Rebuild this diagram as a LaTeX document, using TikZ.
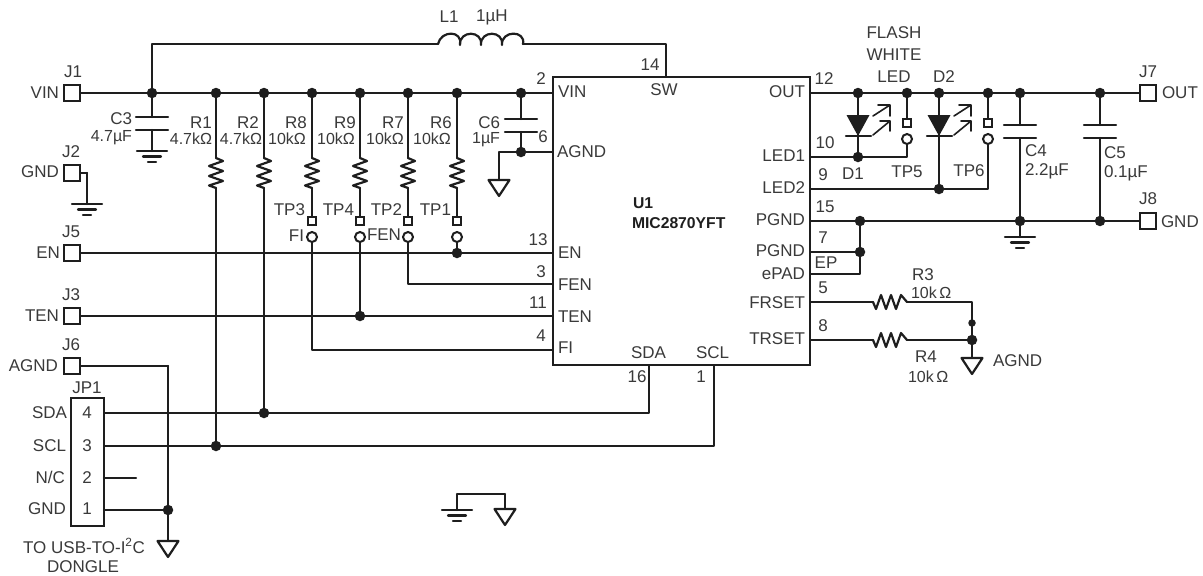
\documentclass[tikz,border=0pt]{standalone}
\usepackage{fontspec}
\setmainfont{Liberation Sans}
\definecolor{wirecol}{HTML}{1E1E1E}
\definecolor{labcol}{HTML}{3A3A3A}
\tikzset{
  wire/.style={draw=wirecol,line width=2.2pt,line cap=round,line join=round},
  thinwire/.style={draw=wirecol,line width=1.6pt,line cap=round,line join=round},
  lab/.style={font=\fontsize{17}{19}\selectfont,text=labcol,inner sep=0pt,outer sep=0pt},
  labv/.style={font=\fontsize{16}{18}\selectfont,text=labcol,inner sep=0pt,outer sep=0pt},
  labb/.style={font=\fontsize{15.7}{18}\selectfont\bfseries,text=wirecol,inner sep=0pt,outer sep=0pt},
  jdot/.style={circle,fill=wirecol,draw=none,minimum size=10.5pt,inner sep=0pt},
  sdot/.style={circle,fill=wirecol,draw=none,minimum size=7.5pt,inner sep=0pt},
  jpad/.style={rectangle,draw=wirecol,line width=2.4pt,fill=white,minimum width=16.5pt,minimum height=15.5pt,inner sep=0pt},
  tsq/.style={rectangle,draw=wirecol,line width=1.7pt,fill=white,minimum size=8pt,inner sep=0pt},
  tcirc/.style={circle,draw=wirecol,line width=2pt,fill=white,minimum size=10pt,inner sep=0pt},
  vres/.pic={\draw[wire] (0,-15)--(7,-12)--(-7,-7)--(7,-2)--(-7,3)--(7,8)--(-7,12.5)--(0,15);},
  hres/.pic={\draw[wire] (-17,0)--(-14,7)--(-9,-7)--(-4,7)--(1,-7)--(6,7)--(11,-7)--(17,0);},
  earth/.pic={\draw[wire] (-15,0)--(15,0) (-9,5.5)--(9,5.5) (-4,11)--(4,11);},
  agnd/.pic={\draw[wire,fill=white] (-10.5,0)--(10.5,0)--(0,16)--cycle;},
  capv/.pic={\draw[wire] (-16,0)--(16,0) (-16,13)--(16,13);},
  coil/.pic={\draw[wire]
     (0,0) .. controls (3,-14) and (25,-14) .. (22,1)
     (22,1) .. controls (21,-14) and (45,-14) .. (43,1)
     (43,1) .. controls (42,-14) and (66,-14) .. (64,1)
     (64,1) .. controls (63,-14) and (88,-14) .. (85,0);},
  led/.pic={
    \fill[wirecol] (-11.5,0)--(11.5,0)--(0,21)--cycle;
    \draw[wire] (-12,21)--(13,21);
    \draw[thinwire] (15,1)--(32,-10) (20,-10)--(32,-10)--(32,1);
    \draw[thinwire] (15,20)--(32,6) (22,6)--(32,6)--(32,16);
  }
}
\begin{document}
\begin{tikzpicture}[x=1pt,y=-1pt]
\useasboundingbox (0,0) rectangle (1203,576);
\fill[white] (0,0) rectangle (1203,576);

% ---------- named points
\coordinate (jC3) at (152,93); \coordinate (jR1) at (216,93); \coordinate (jR2) at (264,93);
\coordinate (jR8) at (312,93); \coordinate (jR9) at (360,93); \coordinate (jR7) at (408,93);
\coordinate (jR6) at (457,93); \coordinate (jC6) at (521,93);
\coordinate (icVin) at (553,93); \coordinate (icAgnd) at (553,152); \coordinate (jC6b) at (521,152);
\coordinate (icEn) at (553,253); \coordinate (icFen) at (553,284); \coordinate (icTen) at (553,316); \coordinate (icFi) at (553,350);
\coordinate (icSw) at (666,77); \coordinate (swTop) at (666,44);
\coordinate (icSda) at (649,365); \coordinate (icScl) at (714,365);
\coordinate (lA) at (438,44); \coordinate (lB) at (523,44); \coordinate (topL) at (152,44);
\coordinate (icOut) at (810,93); \coordinate (icLed1) at (810,157); \coordinate (icLed2) at (810,189);
\coordinate (icPgnd) at (810,221); \coordinate (icPgnd2) at (810,252); \coordinate (icEp) at (810,274);
\coordinate (icFr) at (810,302); \coordinate (icTr) at (810,340);
\coordinate (jD1) at (858,93); \coordinate (jT5) at (907,93); \coordinate (jD2) at (939,93);
\coordinate (jT6) at (988,93); \coordinate (jC4) at (1020,93); \coordinate (jC5) at (1100,93);
\coordinate (jD1b) at (858,157); \coordinate (jD2b) at (939,189);
\coordinate (jP1) at (860,221); \coordinate (jP2) at (860,252); \coordinate (jP3) at (860,274);
\coordinate (jC4b) at (1020,221); \coordinate (jC5b) at (1100,221);
\coordinate (gC4) at (1020,237);
\coordinate (r3L) at (873,302); \coordinate (r3R) at (907,302); \coordinate (r4L) at (873,340); \coordinate (r4R) at (907,340);
\coordinate (cFr) at (972,302); \coordinate (jSm) at (972,323); \coordinate (jTr) at (972,340); \coordinate (gTr) at (972,358);
\coordinate (jEn) at (457,253); \coordinate (jTen) at (360,316); \coordinate (fiC) at (312,350); \coordinate (fenC) at (408,284);
\coordinate (jSda) at (264,413); \coordinate (jScl) at (216,446);
\coordinate (nc) at (136,478); \coordinate (jJp) at (168,510); \coordinate (j6c) at (168,366); \coordinate (g6) at (168,541);
\coordinate (g3) at (152,151); \coordinate (j2c) at (87,173); \coordinate (g2) at (87,204);
\coordinate (gC6c) at (499,152); \coordinate (gC6) at (499,180);
\coordinate (gb1) at (457,510); \coordinate (gb2) at (505,509); \coordinate (gbc1) at (457,494); \coordinate (gbc2) at (505,494);

% ---------- connectors
\draw[wire] (jC3)--(topL)--(lA);
\draw[wire] (lB)--(swTop)--(icSw);
\pic at (lA) {coil};
\draw[wire] (jC3)--(icVin);
\draw[wire] (jC3)--(152,117) (152,130)--(g3);
\draw[wire] (jR1)--(216,158) (216,188)--(jScl);
\draw[wire] (jR2)--(264,158) (264,188)--(jSda);
\draw[wire] (jR8)--(312,158) (312,188)--(312,221) (312,237)--(fiC)--(icFi);
\draw[wire] (jR9)--(360,158) (360,188)--(360,221) (360,237)--(jTen);
\draw[wire] (jR7)--(408,158) (408,188)--(408,221) (408,237)--(fenC)--(icFen);
\draw[wire] (jR6)--(457,158) (457,188)--(457,221) (457,237)--(jEn);
\draw[wire] (jC6)--(521,119) (521,132)--(jC6b);
\draw[wire] (icAgnd)--(gC6c)--(gC6);
\draw[wire] (icOut)--(jD2)--(jC5);
\draw[wire] (jD1)--(jD1b) (icLed1)--(907,157)--(907,139) (jT5)--(907,123);
\draw[wire] (jD2)--(jD2b) (icLed2)--(988,189)--(988,139) (jT6)--(988,123);
\draw[wire] (jC4)--(1020,125) (1020,138)--(jC4b);
\draw[wire] (jC5)--(1100,125) (1100,138)--(jC5b);
\draw[wire] (icPgnd)--(jC5b);
\draw[wire] (jC4b)--(gC4);
\draw[wire] (jP1)--(jP3)--(icEp);
\draw[wire] (icPgnd2)--(jP2);
\draw[wire] (icFr)--(r3L) (r3R)--(cFr)--(gTr);
\draw[wire] (icTr)--(r4L) (r4R)--(jTr);
\draw[wire] (j2c)--(g2);
\draw[wire] (gbc1)--(gbc2) (gbc1)--(gb1) (gbc2)--(gb2);
\draw[wire] (j6c)--(g6);
\draw[wire] (104,478)--(nc);
\draw[wire] (104,510)--(jJp);

\node[jpad] (J1) at (72,93) {};
\node[jpad] (J2) at (72,173) {};
\node[jpad] (J5) at (72,253) {};
\node[jpad] (J3) at (72,316) {};
\node[jpad] (J6) at (72,366) {};
\node[jpad] (J7) at (1148,93) {};
\node[jpad] (J8) at (1148,221) {};
\node[draw=wirecol,line width=2.4pt,minimum width=33pt,minimum height=128pt,inner sep=0pt] (JP1) at (87.5,462) {};
\draw[wire] (J1.east)--(jC3);
\draw[wire] (J2.east)--(j2c);
\draw[wire] (J5.east)--(icEn);
\draw[wire] (J3.east)--(icTen);
\draw[wire] (J6.east)--(j6c);
\draw[wire] (jC5)--(J7.west);
\draw[wire] (jC5b)--(J8.west);
\draw[wire] (JP1.east|-jSda)--(jSda)--(649,413)--(icSda);
\draw[wire] (JP1.east|-jScl)--(jScl)--(714,446)--(icScl);

% IC
\node[draw=wirecol,fill=white,line width=2.4pt,minimum width=257pt,minimum height=288pt,inner sep=0pt] (U1) at (681.5,221) {};

% ---------- parts
\pic at (152,117) {capv};
\pic at (521,119) {capv};
\pic at (1020,125) {capv};
\pic at (1100,125) {capv};
\pic at (216,173) {vres};
\pic at (264,173) {vres};
\pic at (312,173) {vres};
\pic at (360,173) {vres};
\pic at (408,173) {vres};
\pic at (457,173) {vres};
\pic at (890,302) {hres};
\pic at (890,340) {hres};
\pic at (858,115) {led};
\pic at (939,115) {led};
\pic at (g3) {earth};
\pic at (g2) {earth};
\pic at (gC4) {earth};
\pic at (gb1) {earth};
\pic at (gC6) {agnd};
\pic at (g6) {agnd};
\pic at (gb2) {agnd};
\pic at (gTr) {agnd};
\node[tsq] (TPs3) at (312,221) {}; \node[tcirc] (TPc3) at (312,237) {};
\node[tsq] (TPs4) at (360,221) {}; \node[tcirc] (TPc4) at (360,237) {};
\node[tsq] (TPs2) at (408,221) {}; \node[tcirc] (TPc2) at (408,237) {};
\node[tsq] (TPs1) at (457,221) {}; \node[tcirc] (TPc1) at (457,237) {};
\node[tsq] (TPs5) at (907,123) {}; \node[tcirc] (TPc5) at (907,139) {};
\node[tsq] (TPs6) at (988,123) {}; \node[tcirc] (TPc6) at (988,139) {};

% ---------- junctions
\foreach \p in {jC3,jR1,jR2,jR8,jR9,jR7,jR6,jC6,jC6b,jD1,jT5,jD2,jT6,jC4,jC5,jD1b,jD2b,jP1,jP2,jC4b,jC5b,jTr,jEn,jTen,jSda,jScl,jJp}
  \node[jdot] at (\p) {};
\node[sdot] at (jSm) {};

% ---------- labels
\node[lab] (tL1) at (449,17) {L1};
\node[lab] (tLv) at (492,17) {1µH};
\node[lab,anchor=east] (tVIN) at (59,93) {VIN};
\node[lab,anchor=east] (tGND) at (59,172) {GND};
\node[lab,anchor=east] (tEN) at (60,253) {EN};
\node[lab,anchor=east] (tTEN) at (59,316) {TEN};
\node[lab,anchor=east] (tAG) at (58,366) {AGND};
\node[lab] (tJ1) at (73,72) {J1};
\node[lab] (tJ2) at (71,152) {J2};
\node[lab] (tJ5) at (71,232) {J5};
\node[lab] (tJ3) at (71,295) {J3};
\node[lab] (tJ6) at (71,345) {J6};
\node[lab] (tJP) at (87,388) {JP1};
\node[lab,anchor=east] (tC3) at (132,119) {C3};
\node[labv,anchor=east] (tC3v) at (132,138) {4.7µF};
\node[lab] (tR1) at (201,123) {R1};
\node[labv] (tR1v) at (191,139) {4.7kΩ};
\node[lab] (tR2) at (248,123) {R2};
\node[labv] (tR2v) at (241,139) {4.7kΩ};
\node[lab] (tR8) at (296,123) {R8};
\node[labv] (tR8v) at (287,139) {10kΩ};
\node[lab] (tR9) at (345,123) {R9};
\node[labv] (tR9v) at (336,139) {10kΩ};
\node[lab] (tR7) at (393,123) {R7};
\node[labv] (tR7v) at (385,139) {10kΩ};
\node[lab] (tR6) at (441,123) {R6};
\node[labv] (tR6v) at (432,139) {10kΩ};
\node[lab,anchor=east] (tTP3) at (305,210) {TP3};
\node[lab,anchor=east] (tTP4) at (354,210) {TP4};
\node[lab,anchor=east] (tTP2) at (402,210) {TP2};
\node[lab,anchor=east] (tTP1) at (451,210) {TP1};
\node[lab,anchor=east] (tFI) at (304,236) {FI};
\node[lab,anchor=west] (tFEN) at (367,235) {FEN};
\node[lab,anchor=east] (tC6) at (500,123) {C6};
\node[labv,anchor=east] (tC6v) at (500,140) {1µF};
% IC pins and names
\node[lab] (p2) at (541,79) {2};
\node[lab] (p14) at (650,65) {14};
\node[lab] (p6) at (543,137) {6};
\node[lab] (p13) at (538,240) {13};
\node[lab] (p3) at (541,272) {3};
\node[lab] (p11) at (538,303) {11};
\node[lab] (p4) at (541,336) {4};
\node[lab] (p16) at (637,377) {16};
\node[lab] (p1) at (701,377) {1};
\node[lab,anchor=west] (nVIN) at (558,92) {VIN};
\node[lab] (nSW) at (664,90) {SW};
\node[lab,anchor=west] (nAG) at (557,152) {AGND};
\node[lab,anchor=west] (nEN) at (558,253) {EN};
\node[lab,anchor=west] (nFEN) at (558,285) {FEN};
\node[lab,anchor=west] (nTEN) at (558,317) {TEN};
\node[lab,anchor=west] (nFI) at (558,348) {FI};
\node[lab,anchor=west] (nSDA) at (631,353) {SDA};
\node[lab,anchor=west] (nSCL) at (696,353) {SCL};
\node[labb,anchor=west] (nU1) at (633,203) {U1};
\node[labb,anchor=west] (nMIC) at (632,223) {MIC2870YFT};
\node[lab,anchor=east] (nOUT) at (805,92) {OUT};
\node[lab,anchor=east] (nL1) at (805,156) {LED1};
\node[lab,anchor=east] (nL2) at (805,188) {LED2};
\node[lab,anchor=east] (nPG) at (805,220) {PGND};
\node[lab,anchor=east] (nPG2) at (805,251) {PGND};
\node[lab,anchor=east] (nEP) at (805,274) {ePAD};
\node[lab,anchor=east] (nFR) at (805,303) {FRSET};
\node[lab,anchor=east] (nTR) at (805,339) {TRSET};
\node[lab] (p12) at (824,79) {12};
\node[lab] (p10) at (825,143) {10};
\node[lab] (p9) at (823,175) {9};
\node[lab] (p15) at (825,207) {15};
\node[lab] (p7) at (823,238) {7};
\node[lab] (tEP) at (826,263) {EP};
\node[lab] (p5) at (823,288) {5};
\node[lab] (p8) at (823,326) {8};
% right side
\node[lab] (tFl) at (894,33) {FLASH};
\node[lab] (tWh) at (894,55) {WHITE};
\node[lab] (tLed) at (894,77) {LED};
\node[lab] (tD2) at (944,77) {D2};
\node[lab] (tD1) at (853,174) {D1};
\node[lab] (tTP5) at (907,172) {TP5};
\node[lab] (tTP6) at (969,171) {TP6};
\node[lab,anchor=west] (tC4) at (1025,151) {C4};
\node[lab,anchor=west] (tC4v) at (1025,171) {2.2µF};
\node[lab,anchor=west] (tC5) at (1104,153) {C5};
\node[lab,anchor=west] (tC5v) at (1104,173) {0.1µF};
\node[lab] (tJ7) at (1148,72) {J7};
\node[lab] (tJ8) at (1148,199) {J8};
\node[lab,anchor=west] (tOUT) at (1162,93) {OUT};
\node[lab,anchor=west] (tG8) at (1161,222) {GND};
\node[lab] (tR3) at (923,275) {R3};
\node[labv,anchor=west] (tR3v) at (911,293) {10k\,Ω};
\node[lab] (tR4) at (926,357) {R4};
\node[labv,anchor=west] (tR4v) at (908,377) {10k\,Ω};
\node[lab,anchor=west] (tAG2) at (993,361) {AGND};
% JP1
\node[lab,anchor=east] (tSDA) at (67,413) {SDA};
\node[lab,anchor=east] (tSCL) at (66,446) {SCL};
\node[lab,anchor=east] (tNC) at (65,477) {N/C};
\node[lab,anchor=east] (tGD) at (66,509) {GND};
\node[lab] (p4b) at (87,413) {4};
\node[lab] (p3b) at (87,446) {3};
\node[lab] (p2b) at (87,478) {2};
\node[lab] (p1b) at (87,509) {1};
\node[lab] (tTo) at (84,546) {TO USB-TO-I\textsuperscript{2}C};
\node[lab] (tDo) at (83,567) {DONGLE};
\end{tikzpicture}
\end{document}
